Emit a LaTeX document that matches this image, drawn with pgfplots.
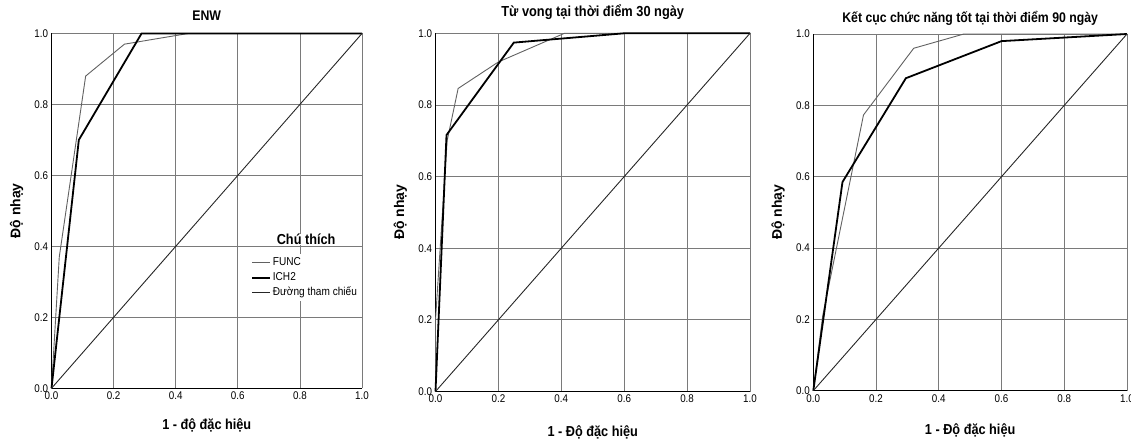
\documentclass[border=0pt]{standalone}
\usepackage{fontspec}
\setmainfont{Liberation Sans}
\newfontfamily\cf[FakeStretch=0.88]{Liberation Sans}
\usepackage{pgfplots}
\pgfplotsset{compat=1.18}
\pgfplotsset{
 roc/.style={
  scale only axis, anchor=south west,
  xmin=0,xmax=1,ymin=0,ymax=1,
  xtick={0,0.2,0.4,0.6,0.8,1}, ytick={0,0.2,0.4,0.6,0.8,1},
  xticklabel style={/pgf/number format/.cd,fixed,fixed zerofill,precision=1},
  yticklabel style={/pgf/number format/.cd,fixed,fixed zerofill,precision=1},
  /pgf/number format/assume math mode=true,
  tick label style={font=\cf\fontsize{11.2}{12}\selectfont, text=black},
  major tick length=0pt,
  grid=major, grid style={black!52, line width=0.8bp},
  axis x line=bottom, axis y line=left, axis line style={-, black, line width=1.3bp},
  clip=false,
  title style={font=\cf\bfseries\fontsize{14}{16}\selectfont, anchor=base, at={(0.5,1)}},
  xlabel style={font=\cf\bfseries\fontsize{14.5}{16}\selectfont, anchor=base},
  ylabel style={font=\bfseries\fontsize{14}{16}\selectfont, anchor=center, at={(axis description cs:-0.112,0.5)}},
  xlabel={1 - Độ đặc hiệu}, ylabel={Độ nhạy},
 },
 func/.style={black!62, line width=0.9bp},
 ich/.style={black, line width=1.8bp},
 refl/.style={black!85, line width=0.9bp},
}
\begin{document}
\begin{tikzpicture}
\path[use as bounding box] (0bp,0bp) rectangle (1131bp,439bp);

% Panel 1
\begin{axis}[roc, at={(51.5bp,50.7bp)}, width=310.5bp, height=354.8bp,
  title={ENW}, title style={yshift=7.5bp},
  xlabel={1 - độ đặc hiệu},
  xlabel style={at={(axis description cs:0.5,-0.1156)}},
  legend cell align=left,
  legend image code/.code={\draw[#1] (0bp,0bp) -- (18bp,0bp);},
  legend style={at={(rel axis cs:0.639,0.378)}, anchor=north west, fill=white, draw=none,
    inner sep=1bp, row sep=0bp,
    font=\cf\fontsize{11.5}{13}\selectfont,
    nodes={inner xsep=2bp, inner ysep=2.25bp, text height=8bp, text depth=2.5bp}},
]
\addplot[func] coordinates {(0,0)(0.025,0.37)(0.11,0.88)(0.235,0.97)(0.44,1)(1,1)};
\addlegendentry{FUNC}
\addplot[ich] coordinates {(0,0)(0.088,0.70)(0.29,1)(1,1)};
\addlegendentry{ICH2}
\addplot[refl] coordinates {(0,0)(1,1)};
\addlegendentry{Đường tham chiếu}
\node[font=\cf\bfseries\fontsize{14.5}{16}\selectfont, anchor=base west, fill=white, inner sep=0pt]
  at (axis cs:0.725,0.404) {Chú thích};
\end{axis}

% Panel 2
\begin{axis}[roc, at={(435.5bp,47.5bp)}, width=314.5bp, height=358.2bp,
  title={Từ vong tại thời điểm 30 ngày},
  title style={yshift=10.7bp, font=\cf\bfseries\fontsize{14.6}{16}\selectfont},
  xlabel style={at={(axis description cs:0.5,-0.1256)}},
]
\addplot[func] coordinates {(0,0)(0,0.2)(0.037,0.70)(0.072,0.846)(0.2,0.92)(0.41,1)(1,1)};
\addplot[ich] coordinates {(0,0)(0.035,0.716)(0.249,0.974)(0.6,1)(1,1)};
\addplot[refl] coordinates {(0,0)(1,1)};
\end{axis}

% Panel 3
\begin{axis}[roc, at={(813.3bp,48.3bp)}, width=313.7bp, height=356.7bp,
  title={Kết cục chức năng tốt tại thời điểm 90 ngày},
  title style={yshift=5.7bp},
  xlabel style={at={(axis description cs:0.5,-0.1234)}},
]
\addplot[func] coordinates {(0,0)(0.03,0.21)(0.16,0.773)(0.32,0.96)(0.48,1)(1,1)};
\addplot[ich] coordinates {(0,0)(0.093,0.585)(0.295,0.876)(0.6,0.98)(1,1)};
\addplot[refl] coordinates {(0,0)(1,1)};
\end{axis}
\end{tikzpicture}
\end{document}
